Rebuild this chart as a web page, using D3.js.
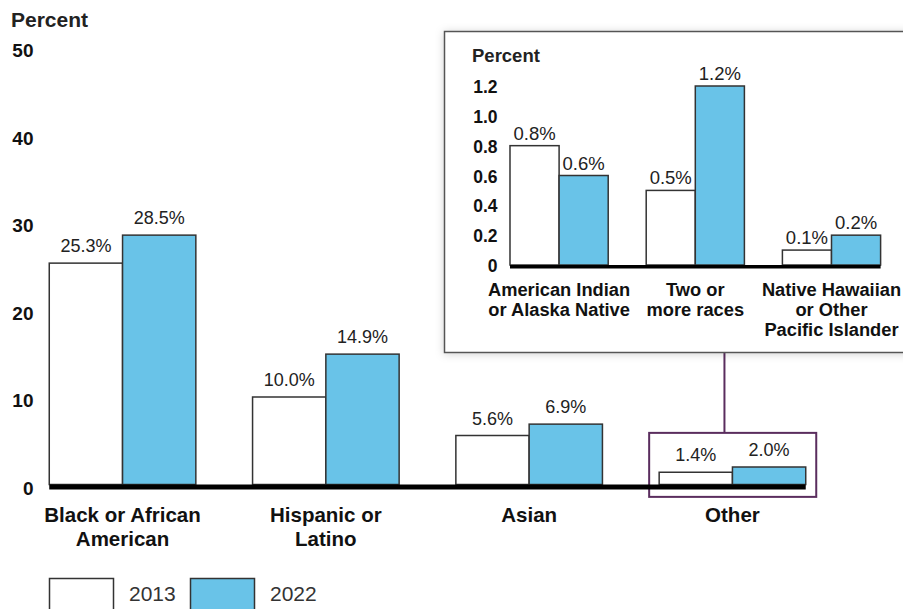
<!DOCTYPE html>
<html>
<head>
<meta charset="utf-8">
<script src="https://cdn.jsdelivr.net/npm/d3@7"></script>
<style>
  html, body { margin: 0; padding: 0; background: #fff; }
  svg { display: block; font-family: Arial, "Liberation Sans", sans-serif; }
</style>
</head>
<body>
<svg id="chart" width="903" height="609"></svg>
<script>
// ---- data ----
const mainCategories = [["Black or African", "American"], ["Hispanic or", "Latino"], ["Asian"], ["Other"]];
const mainValues2013 = [25.3, 10.0, 5.6, 1.4];
const mainValues2022 = [28.5, 14.9, 6.9, 2.0];
const mainTicks = [0, 10, 20, 30, 40, 50];

const insetCategories = [["American Indian", "or Alaska Native"], ["Two or", "more races"], ["Native Hawaiian", "or Other", "Pacific Islander"]];
const insetValues2013 = [0.8, 0.5, 0.1];
const insetValues2022 = [0.6, 1.2, 0.2];
const insetTicks = [0, 0.2, 0.4, 0.6, 0.8, 1.0, 1.2];
const insetTickLabels = ["0", "0.2", "0.4", "0.6", "0.8", "1.0", "1.2"];

const years = ["2013", "2022"];
const colors = ["#ffffff", "#69c3e8"];
const strokeColor = "#333";
const purple = "#5a2d5e";

const svg = d3.select("#chart");
const defs = svg.append("defs");
const f = defs.append("filter").attr("id", "shadow").attr("x", "-10%").attr("y", "-10%").attr("width", "130%").attr("height", "130%");
f.append("feDropShadow").attr("dx", 0).attr("dy", 1).attr("stdDeviation", 4).attr("flood-color", "#000").attr("flood-opacity", 0.18);

// ---- main chart ----
const y = d3.scaleLinear().domain([0, 50]).range([484.5, 47]);
const x = d3.scaleBand().domain(d3.range(mainCategories.length)).range([20.9, 834.1]).paddingInner(0.279).paddingOuter(0.1395);
const xs = d3.scaleBand().domain([0, 1]).range([0, x.bandwidth()]);

svg.append("text").attr("x", 11).attr("y", 26.5).attr("font-size", 21).attr("font-weight", "bold").attr("fill", "#222").text("Percent");

const yAxis = d3.axisLeft(y).tickValues(mainTicks).tickSize(0).tickFormat(d3.format("d"));
const ya = svg.append("g").attr("transform", "translate(33.5,0)").call(yAxis);
ya.select(".domain").remove();
ya.selectAll("text").attr("font-size", 19).attr("font-weight", "bold").attr("fill", "#111")
  .attr("font-family", "Arial, 'Liberation Sans', sans-serif").attr("dy", "0.92em").attr("x", 0)
  .attr("transform", "translate(0,-7.5)");

// highlight box around Other
const oi = 3;
svg.append("rect")
  .attr("x", x(oi) - 10).attr("y", y(5.9))
  .attr("width", x.bandwidth() + 20.5).attr("height", 64)
  .attr("fill", "none").attr("stroke", purple).attr("stroke-width", 2);
svg.append("line")
  .attr("x1", x(oi) + x.bandwidth() / 2 - 8).attr("x2", x(oi) + x.bandwidth() / 2 - 8)
  .attr("y1", 352).attr("y2", y(5.9))
  .attr("stroke", purple).attr("stroke-width", 2);

const mainSeries = [mainValues2013, mainValues2022];
mainSeries.forEach((vals, s) => {
  const g = svg.append("g");
  g.selectAll("rect").data(vals).join("rect")
    .attr("x", (d, i) => x(i) + xs(s))
    .attr("y", d => y(d))
    .attr("width", xs.bandwidth())
    .attr("height", d => y(0) - y(d))
    .attr("fill", colors[s]).attr("stroke", strokeColor).attr("stroke-width", 1.5);
  g.selectAll("text").data(vals).join("text")
    .attr("x", (d, i) => x(i) + xs(s) + xs.bandwidth() / 2)
    .attr("y", d => y(d) - 11)
    .attr("text-anchor", "middle").attr("font-size", 18).attr("fill", "#222")
    .text(d => d.toFixed(1) + "%");
});

svg.append("line").attr("x1", x(0)).attr("x2", x(3) + x.bandwidth())
  .attr("y1", y(0) + 2.5).attr("y2", y(0) + 2.5).attr("stroke", "#000").attr("stroke-width", 5);

mainCategories.forEach((lines, i) => {
  const t = svg.append("text").attr("text-anchor", "middle").attr("font-size", 20.5).attr("font-weight", "bold").attr("fill", "#111");
  lines.forEach((l, j) => {
    t.append("tspan").attr("x", x(i) + x.bandwidth() / 2).attr("y", 521.5 + j * 24.5).text(l);
  });
});

// legend
years.forEach((yr, i) => {
  const lx = 49.5 + i * 141;
  svg.append("rect").attr("x", lx).attr("y", 578.5).attr("width", 64).attr("height", 40)
    .attr("fill", colors[i]).attr("stroke", strokeColor).attr("stroke-width", 1.5);
  svg.append("text").attr("x", lx + 79.5).attr("y", 601).attr("font-size", 21).attr("fill", "#333").text(yr);
});

// ---- inset ----
svg.append("rect").attr("x", 444.5).attr("y", 31.5).attr("width", 480).attr("height", 321)
  .attr("fill", "#fff").attr("stroke", "#555").attr("stroke-width", 1.5).attr("filter", "url(#shadow)");

const iy = d3.scaleLinear().domain([0, 1.2]).range([265, 86]);
const ix = d3.scaleBand().domain(d3.range(insetCategories.length)).range([491, 899.6]).paddingInner(0.279).paddingOuter(0.1395);
const ixs = d3.scaleBand().domain([0, 1]).range([0, ix.bandwidth()]);

svg.append("text").attr("x", 472).attr("y", 61.5).attr("font-size", 18.5).attr("font-weight", "bold").attr("fill", "#222").text("Percent");

const iAxis = d3.axisLeft(iy).tickValues(insetTicks).tickSize(0).tickFormat((d, i) => insetTickLabels[i]);
const ia = svg.append("g").attr("transform", "translate(497.5,0)").call(iAxis);
ia.select(".domain").remove();
ia.selectAll("text").attr("font-size", 17.5).attr("font-weight", "bold").attr("fill", "#111")
  .attr("font-family", "Arial, 'Liberation Sans', sans-serif").attr("x", 0)
  .attr("transform", "translate(0,1)");

const insetSeries = [insetValues2013, insetValues2022];
insetSeries.forEach((vals, s) => {
  const g = svg.append("g");
  g.selectAll("rect").data(vals).join("rect")
    .attr("x", (d, i) => ix(i) + ixs(s))
    .attr("y", d => iy(d))
    .attr("width", ixs.bandwidth())
    .attr("height", d => iy(0) - iy(d))
    .attr("fill", colors[s]).attr("stroke", strokeColor).attr("stroke-width", 1.5);
  g.selectAll("text").data(vals).join("text")
    .attr("x", (d, i) => ix(i) + ixs(s) + ixs.bandwidth() / 2)
    .attr("y", d => iy(d) - 6)
    .attr("text-anchor", "middle").attr("font-size", 18.5).attr("fill", "#222")
    .text(d => d.toFixed(1) + "%");
});

svg.append("line").attr("x1", ix(0)).attr("x2", ix(2) + ix.bandwidth())
  .attr("y1", iy(0) + 1.7).attr("y2", iy(0) + 1.7).attr("stroke", "#000").attr("stroke-width", 3.5);

insetCategories.forEach((lines, i) => {
  const t = svg.append("text").attr("text-anchor", "middle").attr("font-size", 18.3).attr("font-weight", "bold").attr("fill", "#111");
  lines.forEach((l, j) => {
    t.append("tspan").attr("x", ix(i) + ix.bandwidth() / 2).attr("y", 296 + j * 20).text(l);
  });
});
</script>
</body>
</html>
